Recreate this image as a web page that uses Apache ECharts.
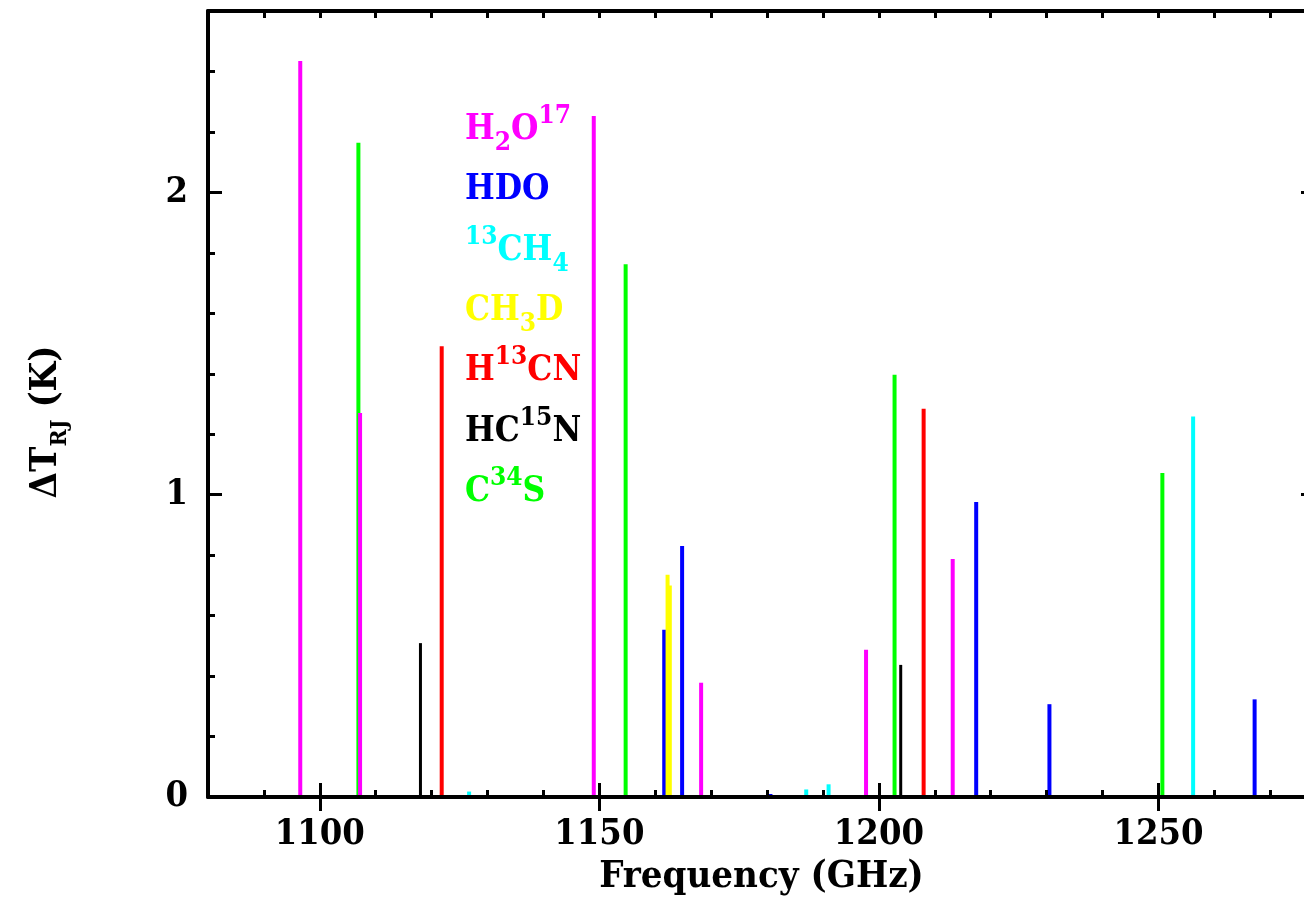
<!DOCTYPE html>
<html>
<head>
<meta charset="utf-8">
<script src="https://cdn.jsdelivr.net/npm/echarts@6/dist/echarts.min.js"></script>
<style>
  html, body { margin: 0; padding: 0; background: #fff; overflow: hidden; }
  /* the plot frame runs slightly past the right edge of the page */
  #chart { width: 1330px; height: 902px; }
</style>
</head>
<body>
<div id="chart"></div>
<script>
const FONT = '"DejaVu Serif Condensed", "DejaVu Serif", serif';

// Line rest frequencies (GHz) and peak brightness-temperature contrasts (K)
const h2o17Lines = [[1096.5, 2.435], [1107.2, 1.270], [1149.0, 2.253], [1168.2, 0.378], [1197.7, 0.487], [1213.2, 0.787]];
const hdoLines   = [[1161.6, 0.553], [1164.8, 0.830], [1180.6, 0.010], [1217.4, 0.976], [1230.5, 0.307], [1267.2, 0.323]];
const ch4c13Lines = [[1126.7, 0.018], [1187.0, 0.025], [1191.0, 0.042], [1256.2, 1.259]];
const ch3dLines  = [[1162.2, 0.735], [1162.6, 0.700]];
const h13cnLines = [[1121.8, 1.491], [1208.0, 1.284]];
const hc15nLines = [[1118.0, 0.509], [1203.9, 0.437]];
const c34sLines  = [[1106.9, 2.164], [1154.7, 1.762], [1202.8, 1.397], [1250.7, 1.072]];

const xMajorTicks = [1100, 1150, 1200, 1250];
const yMajorTicks = [0, 1, 2];

// Species key, top to bottom (rich-text markup for sub/superscripts)
const speciesLabels = ['H{sub|2}O{sup|17}', 'HDO', '{sup|13}CH{sub|4}', 'CH{sub|3}D', 'H{sup|13}CN', 'HC{sup|15}N', 'C{sup|34}S'];
const speciesColors = ['#ff00ff', '#0000ff', '#00ffff', '#ffff00', '#ff0000', '#000000', '#00ff00'];

const X_MIN = 1080, X_MAX = 1278, Y_MIN = 0, Y_MAX = 2.6;

function stickSeries(name, data, color, width) {
  return {
    type: 'custom',
    name: name,
    data: data,
    clip: true,
    z: 2,
    silent: true,
    encode: { x: 0, y: 1 },
    renderItem: function (params, api) {
      const f = api.value(0);
      const p0 = api.coord([f, 0]);
      const p1 = api.coord([f, api.value(1)]);
      return {
        type: 'line',
        shape: { x1: p0[0], y1: p0[1], x2: p1[0], y2: p1[1] },
        style: { stroke: color, lineWidth: width, lineCap: 'butt' }
      };
    }
  };
}

const tickFont = { fontFamily: FONT, fontWeight: 'bold', fontSize: 36, color: '#000' };
const titleFont = { fontFamily: FONT, fontWeight: 'bold', fontSize: 38, color: '#000' };
const axisLine = { show: true, onZero: false, lineStyle: { color: '#000', width: 4 } };
const hidden = { show: false };
const plainNumber = function (v) { return String(v); };

function xAxisPair(position, withLabels) {
  const minor = {
    type: 'value', position: position, min: X_MIN, max: X_MAX, interval: 10, z: 10,
    axisLine: axisLine,
    axisTick: { inside: true, length: 7, lineStyle: { color: '#000', width: 3 } },
    axisLabel: hidden,
    splitLine: hidden
  };
  const major = {
    type: 'value', position: position, min: X_MIN, max: X_MAX, z: 10,
    axisLine: hidden,
    axisTick: { inside: true, length: 14, customValues: xMajorTicks, lineStyle: { color: '#000', width: 3 } },
    axisLabel: withLabels
      ? Object.assign({ customValues: xMajorTicks, margin: 20, formatter: plainNumber }, tickFont)
      : hidden,
    splitLine: hidden
  };
  if (withLabels) {
    major.name = 'Frequency (GHz)';
    major.nameLocation = 'middle';
    major.nameGap = 60;
    major.nameTextStyle = Object.assign({}, titleFont);
  }
  return [minor, major];
}

function yAxisPair(position, withLabels) {
  const minor = {
    type: 'value', position: position, min: Y_MIN, max: Y_MAX, interval: 0.2, z: 10,
    axisLine: axisLine,
    axisTick: { inside: true, length: 7, lineStyle: { color: '#000', width: 3 } },
    axisLabel: hidden,
    splitLine: hidden
  };
  const major = {
    type: 'value', position: position, min: Y_MIN, max: Y_MAX, z: 10,
    axisLine: hidden,
    axisTick: { inside: true, length: 14, customValues: yMajorTicks, lineStyle: { color: '#000', width: 3 } },
    axisLabel: withLabels
      ? Object.assign({ customValues: yMajorTicks, margin: 20, formatter: plainNumber }, tickFont)
      : hidden,
    splitLine: hidden
  };
  if (withLabels) {
    major.name = '{m|ΔT}{s|RJ}{m| (K)}';
    major.nameLocation = 'middle';
    major.nameGap = 143;
    major.nameTextStyle = {
      fontFamily: FONT, fontWeight: 'bold', color: '#000',
      padding: [0, 36, 0, 0],
      rich: {
        m: { fontFamily: FONT, fontWeight: 'bold', fontSize: 38, lineHeight: 38, color: '#000' },
        s: { fontFamily: FONT, fontWeight: 'bold', fontSize: 23, lineHeight: 23, color: '#000', padding: [28, 0, 0, 0] }
      }
    };
  }
  return [minor, major];
}

const xAxes = xAxisPair('bottom', true).concat(xAxisPair('top', false));
const yAxes = yAxisPair('left', true).concat(yAxisPair('right', false));

// Species key drawn as rich text in each species' colour
const keyLeft = 465, keyTop = 130, keyStep = 60.3;
const keyGraphics = speciesLabels.map(function (txt, i) {
  return {
    type: 'text',
    x: keyLeft,
    y: keyTop + i * keyStep,
    z: 20,
    style: {
      text: txt,
      fill: speciesColors[i],
      fontFamily: FONT, fontWeight: 'bold', fontSize: 35,
      align: 'left', verticalAlign: 'middle',
      rich: {
        sup: { fontFamily: FONT, fontWeight: 'bold', fontSize: 26, lineHeight: 26, fill: speciesColors[i], padding: [0, 0, 27, 0] },
        sub: { fontFamily: FONT, fontWeight: 'bold', fontSize: 26, lineHeight: 26, fill: speciesColors[i], padding: [27, 0, 0, 0] }
      }
    }
  };
});

const chart = echarts.init(document.getElementById('chart'), null, { renderer: 'canvas' });
chart.setOption({
  animation: false,
  backgroundColor: '#fff',
  grid: { left: 208, top: 11, right: 15, bottom: 105, containLabel: false },
  xAxis: xAxes,
  yAxis: yAxes,
  series: [
    stickSeries('C34S', c34sLines, '#00ff00', 4),
    stickSeries('H13CN', h13cnLines, '#ff0000', 4),
    stickSeries('HC15N', hc15nLines, '#000000', 3),
    stickSeries('HDO', hdoLines, '#0000ff', 4),
    stickSeries('13CH4', ch4c13Lines, '#00ffff', 4),
    stickSeries('CH3D', ch3dLines, '#ffff00', 4),
    stickSeries('H2O17', h2o17Lines, '#ff00ff', 4)
  ],
  graphic: keyGraphics
});
</script>
</body>
</html>
